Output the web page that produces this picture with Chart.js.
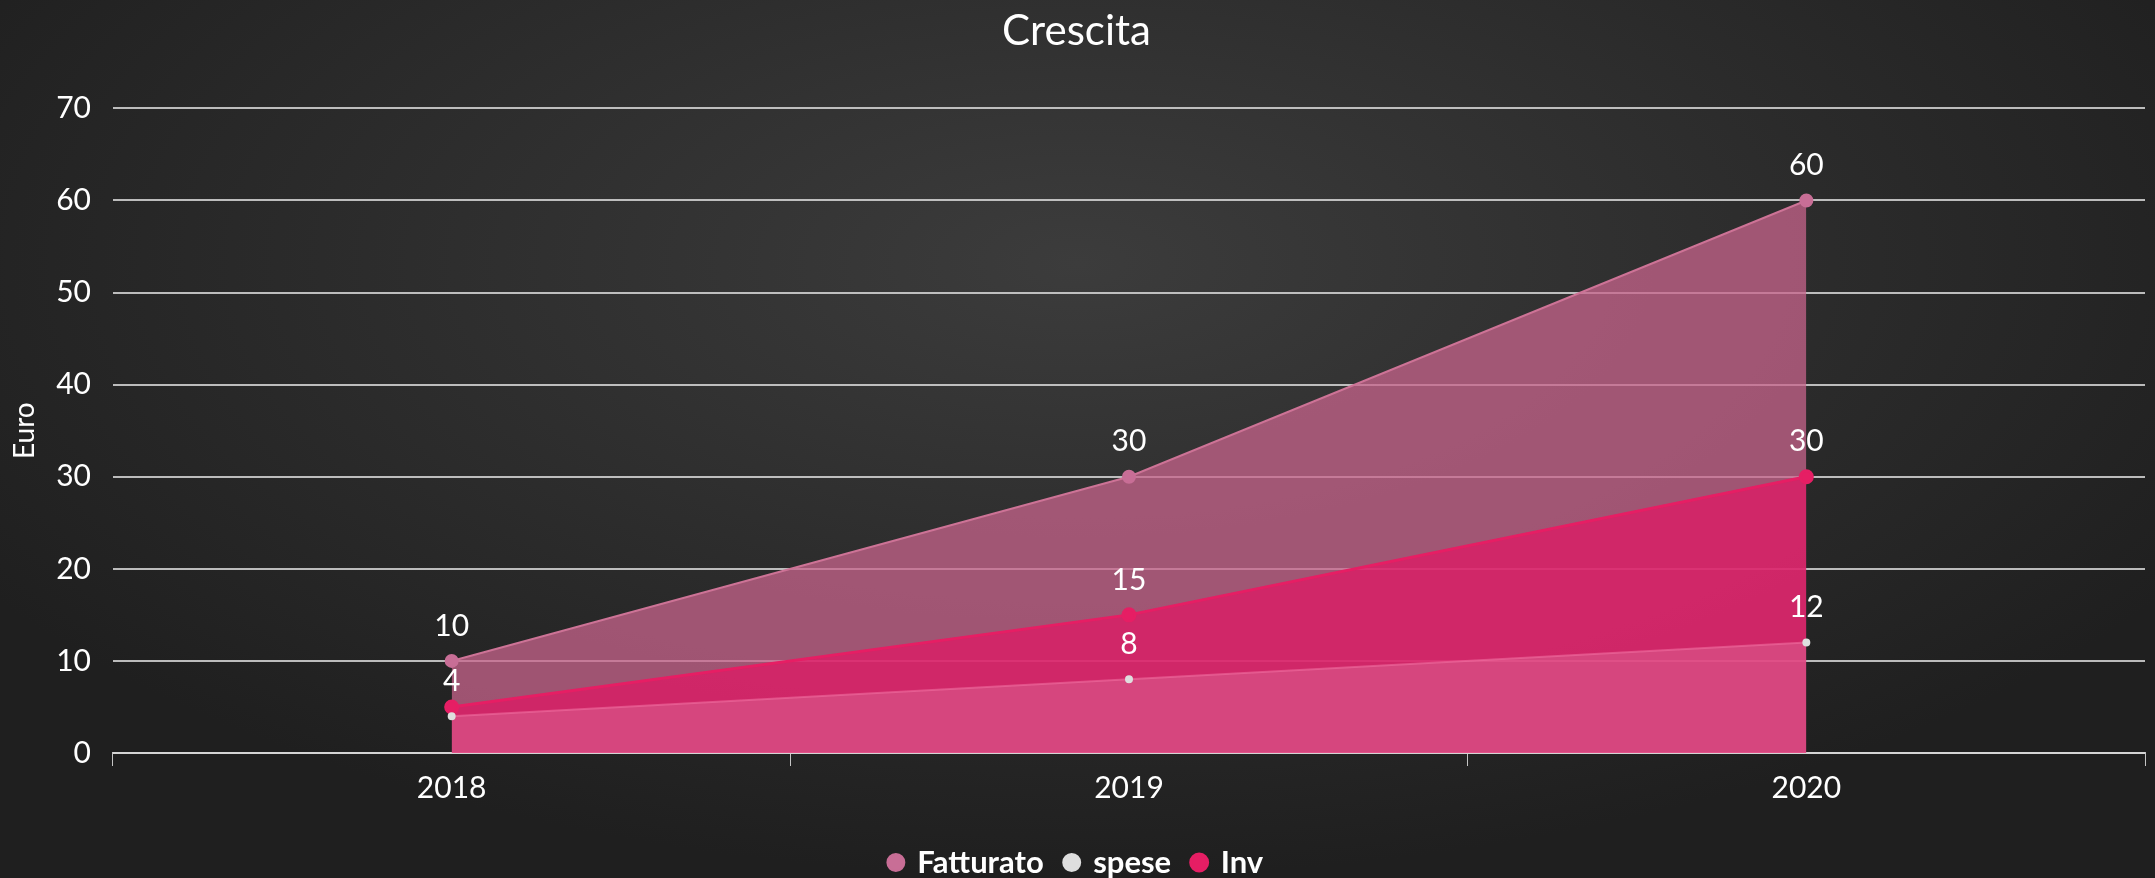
<!DOCTYPE html>
<html>
<head>
<meta charset="utf-8">
<script src="https://cdn.jsdelivr.net/npm/chart.js@4"></script>
<style>
  html, body { margin: 0; padding: 0; }
  body {
    width: 2155px; height: 878px; overflow: hidden;
    background: radial-gradient(ellipse 60% 70% at 50% 30%, #3c3c3c 0%, #2c2c2c 55%, #1f1f1f 100%);
  }
  #wrap { position: relative; width: 2155px; height: 878px; }
</style>
</head>
<body>
<div id="wrap"><canvas id="myChart"></canvas></div>
<script>
    const anni = ['2018', '2019', '2020'];
    const fatturato = [10, 30, 60];
    const spese = [4, 8, 12];
    const inv = [5, 15, 30];
    const yTicks = [0, 10, 20, 30, 40, 50, 60, 70];

    // etichette dei valori sopra i punti, saltando quelle che si sovrappongono
    const valueLabels = {
        id: 'valueLabels',
        afterDatasetsDraw(chart) {
            const ctx = chart.ctx;
            const drawn = [];
            ctx.save();
            ctx.font = '30px Lato';
            ctx.fillStyle = '#ffffff';
            ctx.textAlign = 'center';
            ctx.textBaseline = 'middle';
            chart.data.datasets.forEach((ds, i) => {
                const meta = chart.getDatasetMeta(i);
                meta.data.forEach((pt, j) => {
                    const x = pt.x, y = pt.y - 35;
                    const hit = drawn.some(d => Math.abs(d.x - x) < 30 && Math.abs(d.y - y) < 28);
                    if (hit) return;
                    drawn.push({x: x, y: y});
                    ctx.fillText(ds.data[j], x, y);
                });
            });
            ctx.restore();
        }
    };

    const data = {
        labels: anni,
        datasets: [{
            label: 'Fatturato',
            data: fatturato,
            fill: 'origin',
            order: 3,
            backgroundColor: 'rgba(200,100,140,0.75)',
            borderColor: 'rgb(205,115,150)',
            borderWidth: 2,
            pointBackgroundColor: 'rgb(200,110,150)',
            pointBorderColor: 'rgb(200,110,150)',
            pointRadius: 6
        },
        {
            label: 'spese',
            data: spese,
            fill: 'origin',
            order: 1,
            backgroundColor: 'rgba(255,255,255,0.15)',
            borderColor: 'rgba(240,110,160,0.6)',
            borderWidth: 2,
            pointBackgroundColor: 'rgb(222,222,222)',
            pointBorderColor: 'rgb(222,222,222)',
            pointRadius: 3
        },
        {
            label: 'Inv',
            data: inv,
            fill: 'origin',
            order: 2,
            backgroundColor: 'rgba(228,20,100,0.7)',
            borderColor: 'rgb(230,30,100)',
            borderWidth: 3,
            pointBackgroundColor: 'rgb(230,30,100)',
            pointBorderColor: 'rgb(230,30,100)',
            pointRadius: 6
        }]
    };

    const config = {
        type: 'line',
        data: data,
        plugins: [valueLabels],
        options: {
            responsive: false,
            animation: false,
            layout: { padding: { left: 8, right: 10, top: 4, bottom: -10 } },
            elements: { line: { tension: 0 } },
            plugins: {
                title: {
                    display: true,
                    text: 'Crescita',
                    color: '#ffffff',
                    font: { family: 'Lato', size: 42, weight: 'normal' },
                    padding: { top: 2, bottom: 52 }
                },
                legend: {
                    position: 'bottom',
                    labels: {
                        color: '#ffffff',
                        font: { family: 'Lato', size: 31, weight: 'bold' },
                        usePointStyle: true,
                        pointStyle: 'circle',
                        boxWidth: 12,
                        boxHeight: 12,
                        padding: 22,
                        sort: (a, b) => a.datasetIndex - b.datasetIndex
                    }
                },
                tooltip: { enabled: false }
            },
            scales: {
                x: {
                    offset: true,
                    afterFit: (axis) => { axis.height += 15; },
                    grid: {
                        display: true,
                        drawOnChartArea: false,
                        drawTicks: true,
                        tickLength: 13,
                        color: 'rgba(215,215,215,0.9)',
                        offset: true
                    },
                    border: { display: true, color: 'rgba(215,215,215,0.9)', width: 2 },
                    ticks: {
                        color: '#ffffff',
                        font: { family: 'Lato', size: 30 },
                        padding: 4
                    }
                },
                y: {
                    min: 0,
                    max: 70,
                    afterBuildTicks: (axis) => { axis.ticks = yTicks.map(v => ({ value: v })); },
                    afterFit: (axis) => { axis.width = 105; },
                    grid: {
                        color: 'rgba(215,215,215,0.85)',
                        lineWidth: 2,
                        drawTicks: false
                    },
                    border: { display: false },
                    title: {
                        display: true,
                        text: 'Euro',
                        color: '#ffffff',
                        font: { family: 'Lato', size: 28 },
                        padding: 0
                    },
                    ticks: {
                        color: '#ffffff',
                        font: { family: 'Lato', size: 30 },
                        padding: 22
                    }
                }
            }
        }
    };

    const canvas = document.getElementById('myChart');
    canvas.width = 2155;
    canvas.height = 878;
    const myChart = new Chart(canvas, config);
</script>
</body>
</html>
